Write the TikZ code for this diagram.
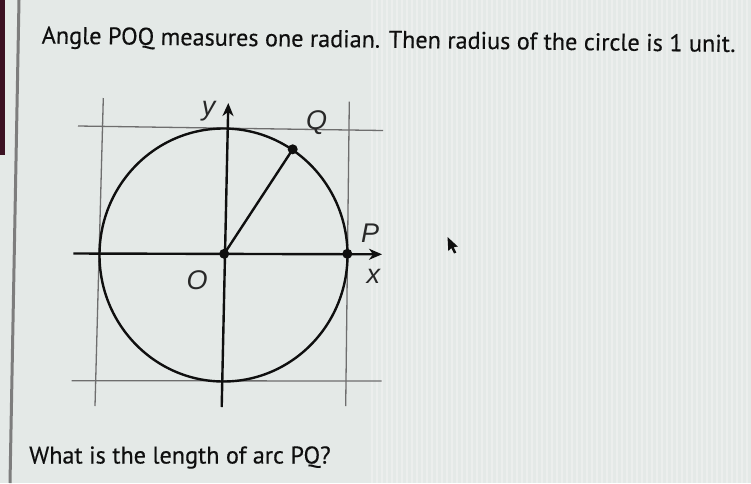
\documentclass[tikz,border=0pt]{standalone}
\usepackage{fontspec}
\setmainfont{PT Sans}[BoldFont=PT Sans, BoldFeatures={FakeBold=0.35}]
\newfontfamily\labfont{Liberation Sans}
\usetikzlibrary{arrows.meta}
\definecolor{bg}{RGB}{228,233,231}
\definecolor{stripe}{RGB}{246,246,246}
\definecolor{edgedark}{RGB}{60,18,34}
\definecolor{frameline}{RGB}{125,125,125}
\definecolor{gridc}{RGB}{110,110,110}
\definecolor{ink}{RGB}{15,15,15}
\definecolor{labc}{RGB}{40,40,40}
\tikzset{
  gridline/.style={draw=gridc, line width=1.3pt},
  curve/.style={draw=ink, line width=2.4pt},
  axis/.style={draw=ink, line width=2.4pt},
  axisarrow/.style={axis, -{Stealth[length=13pt,width=11pt,inset=4pt]}},
  dot/.style={circle, fill=ink, inner sep=0pt, minimum size=10pt},
  lab/.style={text=labc, font=\labfont\itshape\fontsize{27}{27}\selectfont, inner sep=0pt},
  bigtext/.style={text=ink, font=\bfseries\fontsize{24.2}{24.2}\selectfont, inner sep=0pt, anchor=base west}
}
\begin{document}
\begin{tikzpicture}[x=1pt,y=-1pt]
\useasboundingbox (0,0) rectangle (751,483);
\fill[bg] (0,0) rectangle (751,483);
\foreach \i in {0,...,76} {
  \draw[stripe, opacity=0.45, line width=1.6pt] (372+5*\i,0) -- (372+5*\i,483);
}
\fill[edgedark] (0,0) rectangle (5,155);
\draw[frameline, line width=3pt] (19,0) -- (10,483);

% text
\node[bigtext, rotate=-0.7] (title) at (41.5,43.5) {Angle POQ measures one radian. Then radius of the circle is 1 unit.};
\node[bigtext] (question) at (29,463.5) {What is the length of arc PQ?};

% grid frame
\coordinate (tl) at (78,126);
\coordinate (tr) at (383,130.5);
\coordinate (bl) at (71.7,380.7);
\coordinate (br) at (381.7,381);
\coordinate (lt) at (103.3,98);
\coordinate (lb) at (95,406);
\coordinate (rt) at (349.3,101.7);
\coordinate (rb) at (345.7,406);
\draw[gridline] (tl) -- (tr);
\draw[gridline] (bl) -- (br);
\draw[gridline] (lt) -- (lb);
\draw[gridline] (rt) -- (rb);

% circle
\coordinate (C) at (223.5,255);
\draw[curve] (C) ellipse [x radius=124pt, y radius=126.5pt];

% axes
\coordinate (xs) at (73.3,253.5);
\coordinate (xe) at (382,254.3);
\coordinate (ys) at (221.7,407);
\coordinate (ye) at (228.3,103);
\draw[axisarrow] (xs) -- (xe);
\draw[axisarrow] (ys) -- (ye);

% points
\node[dot] (O) at (224.2,253.8) {};
\node[dot] (Q) at (292.7,149.3) {};
\node[dot] (P) at (347.3,253.8) {};
\draw[axis] (O.center) -- (Q.center);

% labels
\node[lab] (ylab) at (208.5,111.5) {y};
\node[lab] (Qlab) at (316.7,123) {Q};
\node[lab] (Plab) at (370,233.3) {P};
\node[lab] (xlab) at (373.3,276) {x};
\node[lab] (Olab) at (197,280) {O};

% mouse pointer
\fill[ink] (447.5,237) -- (448.3,251) -- (451.3,248) -- (454,253.5) -- (456.3,252.5) -- (453.6,247.2) -- (457.8,246.5) -- cycle;
\end{tikzpicture}
\end{document}
